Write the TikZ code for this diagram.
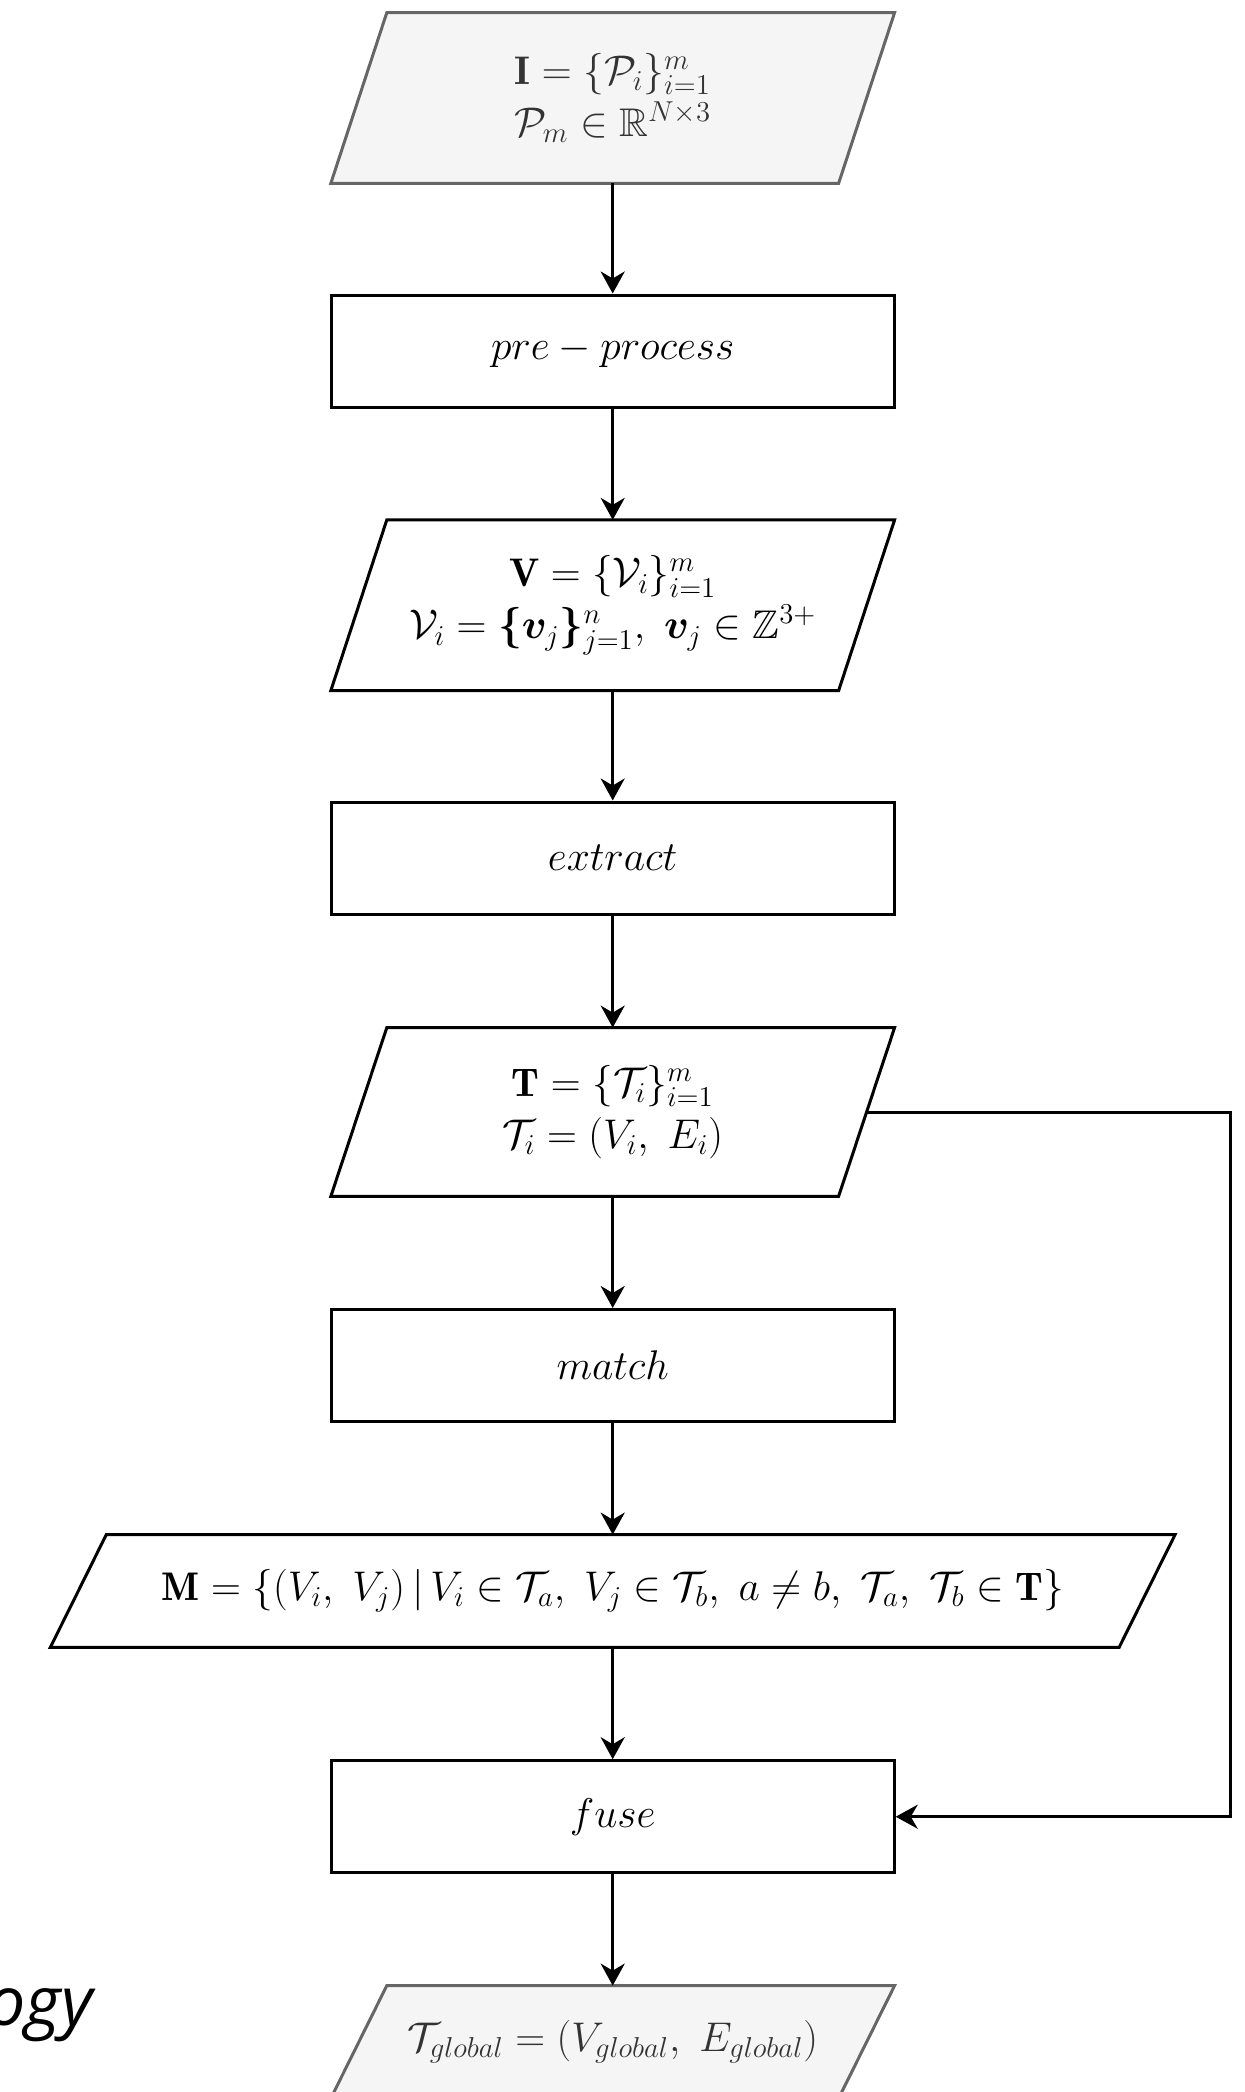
\documentclass[tikz,border=0pt]{standalone}
\usepackage{amsmath,amssymb,bm}
\usepackage{fontspec}
\newfontfamily\osans{Open Sans}
\usetikzlibrary{arrows.meta,backgrounds}
\definecolor{gfill}{HTML}{F5F5F5}
\definecolor{gdraw}{HTML}{666666}
\definecolor{gtext}{HTML}{333333}
\newcommand\drawpara[2]{\path[#1] ([xshift=28pt]#2.north west) -- (#2.north east) -- ([xshift=-28pt]#2.south east) -- (#2.south west) -- cycle;}
\tikzset{
  mfont/.style={font=\fontsize{20}{26}\selectfont},
  box/.style={draw=black, line width=1.5pt, fill=white, minimum width=281.5pt, minimum height=56pt, inner sep=0pt, mfont, align=center},
  pbox/.style={draw=none, minimum width=281.5pt, minimum height=56pt, inner sep=0pt, mfont, align=center},
  flow/.style={line width=1.5pt, -{Stealth[length=11pt,width=12pt,inset=3.5pt]}},
  pline/.style={line width=1.5pt, draw=black, fill=white},
  gline/.style={line width=1.5pt, draw=gdraw, fill=gfill},
}
\begin{document}
\begin{tikzpicture}[x=0.5pt,y=-0.5pt]
\useasboundingbox (0,0) rectangle (1244,2092);
\node[pbox, minimum height=85pt, text=gtext] (in) at (612.7,98)
  {$\mathbf{I} = \{\mathcal{P}_i\}_{i=1}^m$\\ $\mathcal{P}_m \in \mathbb{R}^{N\times 3}$};
\node[box] (pre) at (612.7,351) {$pre-process$};
\node[pbox, minimum height=85pt] (vox) at (612.7,605.3)
  {$\mathbf{V} = \{\mathcal{V}_i\}_{i=1}^m$\\ $\mathcal{V}_i = \boldsymbol{\{}\boldsymbol{v}_j\boldsymbol{\}}_{j=1}^n,\ \boldsymbol{v}_j \in \mathbb{Z}^{3+}$};
\node[box] (ext) at (612.7,858) {$extract$};
\node[pbox, minimum height=84pt] (tre) at (612.7,1112)
  {$\mathbf{T} = \{\mathcal{T}_i\}_{i=1}^m$\\ $\mathcal{T}_i = (V_i,\ E_i)$};
\node[box] (mat) at (612.7,1365.5) {$match$};
\node[pbox, minimum width=562pt] (mset) at (612.7,1591)
  {$\mathbf{M} = \left\{\left(V_i,\ V_j\right) \,\middle|\, V_i \in \mathcal{T}_a,\ V_j \in \mathcal{T}_b,\ a \neq b,\ \mathcal{T}_a,\ \mathcal{T}_b \in \mathbf{T}\right\}$};
\node[box] (fuse) at (612.7,1816.7) {$fuse$};
\node[pbox, text=gtext] (out) at (612.7,2042)
  {$\mathcal{T}_{global} = (V_{global},\ E_{global})$};
\node[anchor=base east, inner sep=0pt, font=\osans\itshape\fontsize{34}{40}\selectfont] (ogy) at (93,2025) {ogy};
\begin{scope}[on background layer]
  \drawpara{gline}{in}
  \drawpara{pline}{vox}
  \drawpara{pline}{tre}
  \drawpara{pline}{mset}
  \drawpara{gline}{out}
\end{scope}
\coordinate (fb) at (1230.7,1450);
\draw[flow] (in.south) -- (pre.north);
\draw[flow] (pre.south) -- (vox.north);
\draw[flow] (vox.south) -- (ext.north);
\draw[flow] (ext.south) -- (tre.north);
\draw[flow] (tre.south) -- (mat.north);
\draw[flow] (mat.south) -- (mset.north);
\draw[flow] (mset.south) -- (fuse.north);
\draw[flow] (fuse.south) -- (out.north);
\draw[flow] ([xshift=-14pt]tre.east) -| (fb) |- (fuse.east);
\end{tikzpicture}
\end{document}
